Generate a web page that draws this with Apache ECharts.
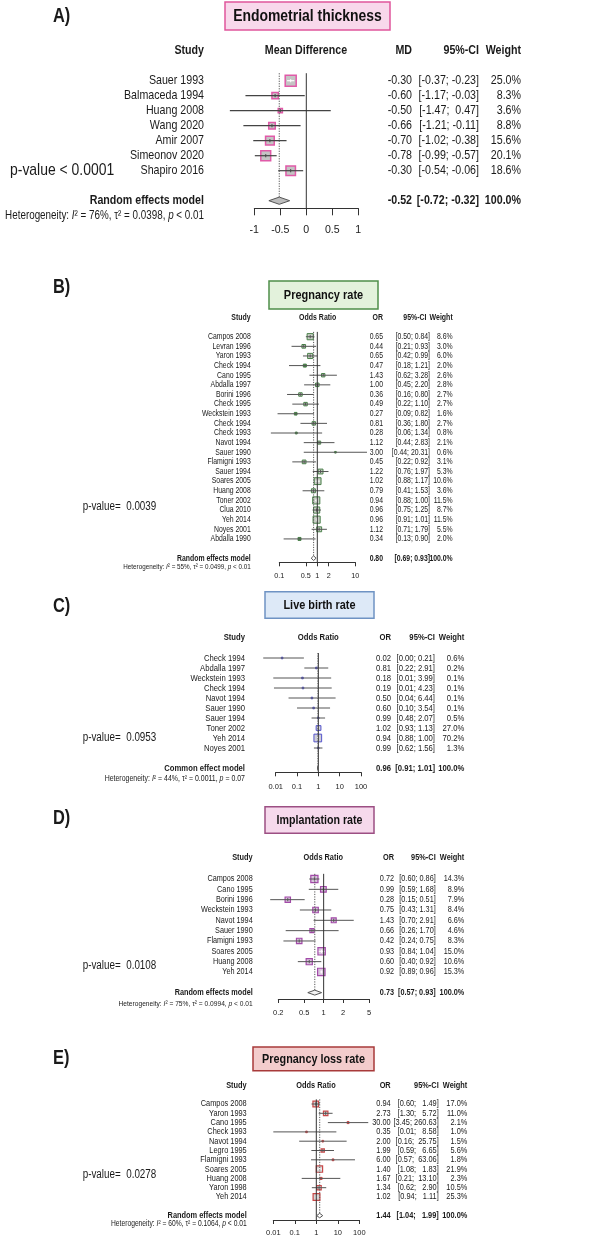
<!DOCTYPE html>
<html><head><meta charset="utf-8">
<script src="https://cdn.jsdelivr.net/npm/echarts@6/dist/echarts.min.js"></script>
<style>html,body{margin:0;padding:0;background:#fff}#c{width:608px;height:1240px}</style>
</head><body><div id="c"></div>
<script>
// ---------- DATA ----------
const titles = ['Endometrial thickness','Pregnancy rate','Live birth rate','Implantation rate','Pregnancy loss rate'];
const panelLabels = ['A)','B)','C)','D)','E)'];
const effectHeads = ['Mean Difference','Odds Ratio','Odds Ratio','Odds Ratio','Odds Ratio'];
const estHeads = ['MD','OR','OR','OR','OR'];
const modelNames = ['Random effects model','Random effects model','Common effect model','Random effects model','Random effects model'];
const pValues = ['p-value < 0.0001','p-value=  0.0039','p-value=  0.0953','p-value=  0.0108','p-value=  0.0278'];
const hetI2 = ['76%','55%','44%','75%','60%'];
const hetTau2 = ['0.0398','0.0499','0.0011','0.0994','0.1064'];
const hetP = ['< 0.01','< 0.01','= 0.07','< 0.01','< 0.01'];

const studiesA = ['Sauer 1993','Balmaceda 1994','Huang 2008','Wang 2020','Amir 2007','Simeonov 2020','Shapiro 2016'];
const mdA     = [-0.30,-0.60,-0.50,-0.66,-0.70,-0.78,-0.30];
const lowA    = [-0.37,-1.17,-1.47,-1.21,-1.02,-0.99,-0.54];
const highA   = [-0.23,-0.03, 0.47,-0.11,-0.38,-0.57,-0.06];
const weightA = [25.0,8.3,3.6,8.8,15.6,20.1,18.6];
const summaryA = [-0.52,-0.72,-0.32];
const ticksA = [-1,-0.5,0,0.5,1];

const studiesB = ['Campos 2008','Levran 1996','Yaron 1993','Check 1994','Cano 1995','Abdalla 1997','Borini 1996','Check 1995','Weckstein 1993','Check 1994','Check 1993','Navot 1994','Sauer 1990','Flamigni 1993','Sauer 1994','Soares 2005','Huang 2008','Toner 2002','Clua 2010','Yeh 2014','Noyes 2001','Abdalla 1990'];
const orB     = [0.65,0.44,0.65,0.47,1.43,1.00,0.36,0.49,0.27,0.81,0.28,1.12,3.00,0.45,1.22,1.02,0.79,0.94,0.96,0.96,1.12,0.34];
const lowB    = [0.50,0.21,0.42,0.18,0.62,0.45,0.16,0.22,0.09,0.36,0.06,0.44,0.44,0.22,0.76,0.88,0.41,0.88,0.75,0.91,0.71,0.13];
const highB   = [0.84,0.93,0.99,1.21,3.28,2.20,0.80,1.10,0.82,1.80,1.34,2.83,20.31,0.92,1.97,1.17,1.53,1.00,1.25,1.01,1.79,0.90];
const weightB = [8.6,3.0,6.0,2.0,2.6,2.8,2.7,2.7,1.6,2.7,0.8,2.1,0.6,3.1,5.3,10.6,3.6,11.5,8.7,11.5,5.5,2.0];
const summaryB = [0.80,0.69,0.93];
const ticksB = [0.1,0.5,1,2,10];

const studiesC = ['Check 1994','Abdalla 1997','Weckstein 1993','Check 1994','Navot 1994','Sauer 1990','Sauer 1994','Toner 2002','Yeh 2014','Noyes 2001'];
const orC     = [0.02,0.81,0.18,0.19,0.50,0.60,0.99,1.02,0.94,0.99];
const lowC    = [0.0026,0.22,0.0077,0.0083,0.04,0.10,0.48,0.93,0.88,0.62];
const highC   = [0.21,2.91,3.99,4.23,6.44,3.54,2.07,1.13,1.00,1.56];
const weightC = [0.6,0.2,0.1,0.1,0.1,0.1,0.5,27.0,70.2,1.3];
const summaryC = [0.96,0.91,1.01];
const ticksC = [0.01,0.1,1,10,100];

const studiesD = ['Campos 2008','Cano 1995','Borini 1996','Weckstein 1993','Navot 1994','Sauer 1990','Flamigni 1993','Soares 2005','Huang 2008','Yeh 2014'];
const orD     = [0.72,0.99,0.28,0.75,1.43,0.66,0.42,0.93,0.60,0.92];
const lowD    = [0.60,0.59,0.15,0.43,0.70,0.26,0.24,0.84,0.40,0.89];
const highD   = [0.86,1.68,0.51,1.31,2.91,1.70,0.75,1.04,0.92,0.96];
const weightD = [14.3,8.9,7.9,8.4,6.6,4.6,8.3,15.0,10.6,15.3];
const summaryD = [0.73,0.57,0.93];
const ticksD = [0.2,0.5,1,2,5];

const studiesE = ['Campos 2008','Yaron 1993','Cano 1995','Check 1993','Navot 1994','Legro 1995','Flamigni 1993','Soares 2005','Huang 2008','Yaron 1998','Yeh 2014'];
const orE     = [0.94,2.73,30.00,0.35,2.00,1.99,6.00,1.40,1.67,1.34,1.02];
const lowE    = [0.60,1.30,3.45,0.01,0.16,0.59,0.57,1.08,0.21,0.62,0.94];
const highE   = [1.49,5.72,260.63,8.58,25.75,6.65,63.06,1.83,13.10,2.90,1.11];
const weightE = [17.0,11.0,2.1,1.0,1.5,5.6,1.8,21.9,2.3,10.5,25.3];
const summaryE = [1.44,1.04,1.99];
const ticksE = [0.01,0.1,1,10,100];

// ---------- FONT ----------
const NARROW = (() => {
  const c = document.createElement('canvas').getContext('2d');
  const s = 'abcdefghijklmnopqrstuvwxyz0123456789ABCDEF';
  c.font = '40px monospace'; const w1 = c.measureText(s).width;
  c.font = '40px "Liberation Sans Narrow", monospace'; const w2 = c.measureText(s).width;
  return Math.abs(w1 - w2) > 1;
})();
const FAM = NARROW ? '"Liberation Sans Narrow", "Liberation Sans", Arial, sans-serif' : '"Liberation Sans", Arial, sans-serif';
const SX = NARROW ? 1 : 0.82;
const INK = '#1a1a1a';

// ---------- LAYOUT ----------
const layout = [
 {labelY:16, box:[225,2,165,28], boxFill:'#f8d8eb', boxStroke:'#e0559c', titleSize:17,
  row0:80.7, sp:15, axisY:208.3, xL:254.3, xR:358.3, headY:50, hetY:216, font:13, headFont:13, hetFont:12,
  nameX:204, estX:412, ciX:479, ciHeadX:479, wX:521, midX:306, axisFont:12.5, margin:16, tickLen:7,
  pX:10, pY:170.7, pFont:17, k:2.2, sqFill:'#c4c4c4', sqStroke:'#e05aa8', sqLw:1.5, ciColor:'#444', diaFill:'#bdbdbd', lw:1.2, pad:true, log:false, nullVal:0},
 {labelY:287, box:[269,281,109,28], boxFill:'#e3f2dc', boxStroke:'#4f8f4a', titleSize:13.4,
  row0:336.7, sp:9.63, axisY:562.3, xL:279.3, xR:355.3, headY:317.3, hetY:567.3, font:8.4, headFont:8.5, hetFont:7.7,
  nameX:250.7, estX:383, ciX:430, ciHeadX:426.5, wX:452.7, midX:317.7, axisFont:8.5, margin:10, tickLen:4,
  pX:82.7, pY:507, pFont:12, k:2.1, sqFill:'#c9cfc6', sqStroke:'#4a804a', sqLw:1, ciColor:'#555', diaFill:'#ffffff', lw:1, pad:false, log:true, nullVal:1},
 {labelY:606.7, box:[265,591.7,109,26.6], boxFill:'#dde9f7', boxStroke:'#6f93c3', titleSize:13.3,
  row0:658, sp:10, axisY:772.3, xL:275.7, xR:361, headY:637.7, hetY:778.3, font:9.4, headFont:9.4, hetFont:8.5,
  nameX:245, estX:391, ciX:435, ciHeadX:435, wX:464.3, midX:318.3, axisFont:8.8, margin:11, tickLen:4,
  pX:82.7, pY:737.3, pFont:12, k:0.92, sqFill:'#cfcfd8', sqStroke:'#5555cc', sqLw:1, ciColor:'#555', diaFill:'#ffffff', lw:1, pad:false, log:true, nullVal:1},
 {labelY:818.3, box:[265,806.7,109,26.6], boxFill:'#f6d9ec', boxStroke:'#9c4f83', titleSize:13,
  row0:879, sp:10.33, axisY:999, xL:278.3, xR:369, headY:857.7, hetY:1003.3, font:8.9, headFont:9, hetFont:8.1,
  nameX:252.7, estX:394, ciX:435.7, ciHeadX:435.7, wX:464.3, midX:323.3, axisFont:8.8, margin:10.5, tickLen:4,
  pX:82.7, pY:966, pFont:12, k:1.9, sqFill:'#d9c3dd', sqStroke:'#a24aa8', sqLw:1.2, ciColor:'#555', diaFill:'#f2f2f2', lw:1, pad:false, log:true, nullVal:1},
 {labelY:1058.3, box:[253,1047,121,23.7], boxFill:'#f3cccc', boxStroke:'#a83a3a', titleSize:13.2,
  row0:1104, sp:9.3, axisY:1220, xL:273.3, xR:359.3, headY:1085.7, hetY:1224, font:9, headFont:9, hetFont:8.2,
  nameX:246.7, estX:390.7, ciX:438.7, ciHeadX:438.7, wX:467.3, midX:316, axisFont:8.8, margin:9.5, tickLen:4,
  pX:82.7, pY:1175, pFont:12, k:1.35, sqFill:'#d6d6d6', sqStroke:'#c84848', sqLw:1.2, ciColor:'#555', diaFill:'#ffffff', lw:1, pad:true, log:true, nullVal:1}
];

const panels = [
 {studies:studiesA, est:mdA, lo:lowA, hi:highA, w:weightA, sum:summaryA, ticks:ticksA},
 {studies:studiesB, est:orB, lo:lowB, hi:highB, w:weightB, sum:summaryB, ticks:ticksB},
 {studies:studiesC, est:orC, lo:lowC, hi:highC, w:weightC, sum:summaryC, ticks:ticksC},
 {studies:studiesD, est:orD, lo:lowD, hi:highD, w:weightD, sum:summaryD, ticks:ticksD},
 {studies:studiesE, est:orE, lo:lowE, hi:highE, w:weightE, sum:summaryE, ticks:ticksE}
];

function font(size, bold, italic) {
  return (italic ? 'italic ' : '') + (bold ? 'bold ' : '') + size + 'px ' + FAM;
}
function txt(x, y, text, size, opt) {
  opt = opt || {};
  return { type:'text', x:x, y:y, scaleX:SX, z:10,
    style:{ text:text, fill:opt.color || INK, font:font(size, opt.bold, opt.italic),
      align:opt.align || 'right', verticalAlign:'middle', rich:opt.rich } };
}
function ciStrings(lo, hi, pad) {
  const L = lo.map(v => v.toFixed(2)), H = hi.map(v => v.toFixed(2));
  const ml = pad ? Math.max(...L.map(s => s.length)) : 0;
  const mh = pad ? Math.max(...H.map(s => s.length)) : 0;
  return L.map((l, i) => '[' + l.padStart(ml) + '; ' + H[i].padStart(mh) + ']');
}

const grids = [], xAxes = [], yAxes = [], series = [], graphics = [];

panels.forEach((p, k) => {
  const L = layout[k];
  const tx = L.log ? Math.log10 : (v => v);
  const maxRow = (L.axisY - L.row0) / L.sp;
  const top = L.row0 - 0.5 * L.sp;
  const sumRow = p.studies.length + 1;
  grids.push({ left:L.xL, width:L.xR - L.xL, top:top, height:L.axisY - top, containLabel:false, outerBoundsMode:'none' });
  const tv = p.ticks.map(tx);
  const af = NARROW ? L.axisFont : L.axisFont * 0.85;
  xAxes.push({ gridIndex:k, type:'value', min:tv[0], max:tv[tv.length - 1],
    axisLine:{ show:true, onZero:false, lineStyle:{ color:'#333', width:1 } },
    axisTick:{ show:true, length:L.tickLen, customValues:tv, lineStyle:{ color:'#333', width:1 } },
    axisLabel:{ customValues:tv, margin:L.margin, fontSize:af, fontFamily:FAM, color:INK, hideOverlap:false,
      formatter: v => String(Number((L.log ? Math.pow(10, v) : v).toPrecision(4))) },
    splitLine:{ show:false } });
  yAxes.push({ gridIndex:k, type:'value', inverse:true, min:-0.5, max:maxRow, show:false });

  const cis = ciStrings(p.lo.concat([p.sum[1]]), p.hi.concat([p.sum[2]]), L.pad);

  // study rows
  series.push({ type:'custom', xAxisIndex:k, yAxisIndex:k, clip:false, silent:true, animation:false,
    data: p.studies.map((s, i) => [tx(p.est[i]), i, tx(p.lo[i]), tx(p.hi[i]), p.w[i]]),
    encode:{ x:0, y:1 },
    renderItem: (params, api) => {
      const i = params.dataIndex;
      const c = api.coord([api.value(0), api.value(1)]);
      const l = api.coord([api.value(2), api.value(1)]);
      const h = api.coord([api.value(3), api.value(1)]);
      const side = Math.max(1.6, L.k * Math.sqrt(api.value(4)));
      const inside = (h[0] - l[0]) <= side;
      const lc = inside ? '#ffffff' : L.ciColor;
      const small = side < 3;
      const kids = [
        { type:'rect', shape:{ x:c[0] - side / 2, y:c[1] - side / 2, width:side, height:side },
          style:{ fill: small ? L.sqStroke : L.sqFill, stroke:L.sqStroke, lineWidth: small ? 1 : L.sqLw } },
        { type:'line', shape:{ x1:l[0], y1:c[1], x2:h[0], y2:c[1] }, style:{ stroke:lc, lineWidth:L.lw } }
      ];
      if (!small) {
        const t = Math.min(1.6, side / 2 - 0.5);
        kids.push({ type:'line', shape:{ x1:c[0], y1:c[1] - t, x2:c[0], y2:c[1] + t }, style:{ stroke:lc, lineWidth:1 } });
      }
      kids.push(txt(L.nameX, c[1], p.studies[i], L.font));
      kids.push(txt(L.estX, c[1], p.est[i].toFixed(2), L.font));
      kids.push(txt(L.ciX, c[1], cis[i], L.font));
      kids.push(txt(L.wX, c[1], p.w[i].toFixed(1) + '%', L.font));
      return { type:'group', children:kids };
    } });

  // summary + reference lines
  series.push({ type:'custom', xAxisIndex:k, yAxisIndex:k, clip:false, silent:true, animation:false,
    data: [[tx(p.sum[0]), sumRow, tx(p.sum[1]), tx(p.sum[2])]],
    encode:{ x:0, y:1 },
    renderItem: (params, api) => {
      const c = api.coord([api.value(0), api.value(1)]);
      const l = api.coord([api.value(2), api.value(1)]);
      const h = api.coord([api.value(3), api.value(1)]);
      const hh = L.sp * 0.24;
      const n0 = api.coord([tx(L.nullVal), -0.5]);
      const n1 = api.coord([tx(L.nullVal), maxRow]);
      const d0 = api.coord([api.value(0), -0.5]);
      return { type:'group', children:[
        { type:'line', shape:{ x1:n0[0], y1:n0[1], x2:n1[0], y2:n1[1] }, style:{ stroke:'#333', lineWidth:1 } },
        { type:'line', shape:{ x1:d0[0], y1:d0[1], x2:c[0], y2:c[1] - hh }, style:{ stroke:'#555', lineWidth:1, lineDash:[1.2, 1.3] } },
        { type:'polygon', shape:{ points:[[l[0], c[1]], [c[0], c[1] - hh], [h[0], c[1]], [c[0], c[1] + hh]] },
          style:{ fill:L.diaFill, stroke:'#555', lineWidth:1 } },
        txt(L.nameX, c[1], modelNames[k], L.font, { bold:true }),
        txt(L.estX, c[1], p.sum[0].toFixed(2), L.font, { bold:true }),
        txt(L.ciX, c[1], cis[cis.length - 1], L.font, { bold:true }),
        txt(L.wX, c[1], '100.0%', L.font, { bold:true })
      ] };
    } });

  // static texts
  graphics.push(txt(53, L.labelY, panelLabels[k], 20, { bold:true, align:'left' }));
  graphics.push({ type:'rect', shape:{ x:L.box[0], y:L.box[1], width:L.box[2], height:L.box[3] },
    style:{ fill:L.boxFill, stroke:L.boxStroke, lineWidth:1.5 } });
  graphics.push(txt(L.box[0] + L.box[2] / 2, L.box[1] + L.box[3] / 2 + 0.5, titles[k], L.titleSize, { bold:true, align:'center', color:'#111' }));
  graphics.push(txt(L.nameX, L.headY, 'Study', L.headFont, { bold:true }));
  graphics.push(txt(L.midX, L.headY, effectHeads[k], L.headFont, { bold:true, align:'center' }));
  graphics.push(txt(L.estX, L.headY, estHeads[k], L.headFont, { bold:true }));
  graphics.push(txt(L.ciHeadX, L.headY, '95%-CI', L.headFont, { bold:true }));
  graphics.push(txt(L.wX, L.headY, 'Weight', L.headFont, { bold:true }));
  graphics.push(txt(L.pX, L.pY, pValues[k], L.pFont, { align:'left' }));
  const hf = L.hetFont;
  graphics.push(txt(L.nameX, L.hetY,
    'Heterogeneity: {it|I}² = ' + hetI2[k] + ', τ² = ' + hetTau2[k] + ', {it|p} ' + hetP[k], hf,
    { rich:{ it:{ font:font(hf, false, true), fill:INK } } }));
});

const chart = echarts.init(document.getElementById('c'), null, { renderer:'canvas' });
chart.setOption({
  backgroundColor:'#ffffff',
  animation:false,
  grid:grids, xAxis:xAxes, yAxis:yAxes, series:series,
  graphic:{ elements:graphics.map(g => Object.assign({ silent:true }, g)) }
});
</script>
</body></html>
